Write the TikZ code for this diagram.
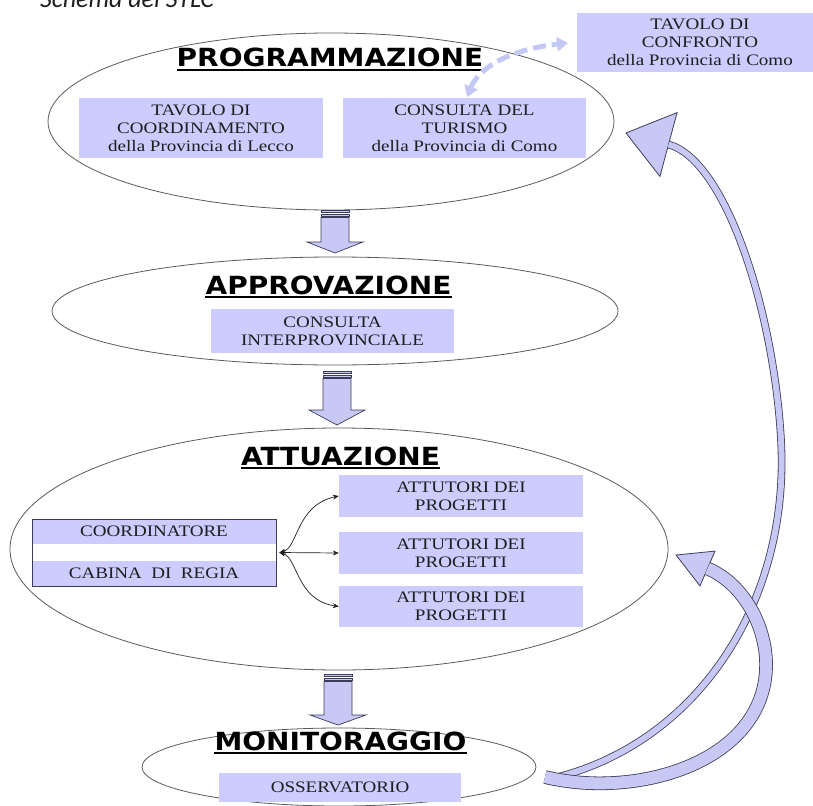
\documentclass[tikz,border=0pt]{standalone}
\usepackage{fontspec}
\usetikzlibrary{shapes.geometric, arrows.meta}
\newfontfamily\capfont{Carlito}
\newfontfamily\hfont{DejaVu Sans}[FakeStretch=1.12]
\newfontfamily\sfont{Liberation Serif}[FakeStretch=1.19]
\definecolor{boxfill}{RGB}{204,204,255}
\definecolor{arrfill}{RGB}{200,200,245}
\definecolor{edge}{RGB}{60,60,90}
\definecolor{ellc}{RGB}{90,90,90}
\definecolor{dashc}{RGB}{196,200,245}
\definecolor{txt}{RGB}{30,30,30}
\newcommand\blockarrow[4]{%
  \draw[blk] (#1-14,#2) rectangle (#1+14,#2+2.5);
  \draw[blk] (#1-14,#2+4) rectangle (#1+14,#2+6);
  \draw[blk] (#1-14,#2+7.5) -- (#1-14,#3) -- (#1-28,#3) -- (#1,#4) -- (#1+28,#3) -- (#1+14,#3) -- (#1+14,#2+7.5) -- cycle;
}
\begin{document}
\begin{tikzpicture}[x=1pt,y=-1pt,
  phase/.style={ellipse, draw=ellc, line width=0.8pt, inner sep=0pt},
  boxnode/.style={fill=boxfill, inner sep=0pt, align=center, text=txt, font=\sfont\fontsize{16}{18}\selectfont},
  headnode/.style={font=\hfont\bfseries\fontsize{25}{30}\selectfont, inner sep=0pt, anchor=base, text=black},
  uline/.style={line width=2pt, black},
  blk/.style={draw=edge, fill=arrfill, line width=0.7pt, line join=miter},
  ribbon/.style={draw=edge, line width=0.8pt, double=arrfill, double distance=#1},
  headtri/.style={draw=edge, fill=arrfill, line width=0.8pt, line join=miter},
  link/.style={txt, line width=0.7pt, {Stealth[length=6pt,width=5pt]}-{Stealth[length=6pt,width=5pt]}},
  dashlink/.style={dashc, line width=5pt, dash pattern=on 13pt off 6pt, {Triangle[length=11pt,width=14pt]}-{Triangle[length=11pt,width=14pt]}}
]
\useasboundingbox (0,0) rectangle (813,805);

% caption (cut at the top edge, as in the reference)
\node[anchor=base west, inner sep=0pt, font=\capfont\itshape\fontsize{26}{30}\selectfont, text=txt] (cap) at (40,8) {Schema del STLC};

% phases
\node[phase, minimum width=566pt, minimum height=177pt] (e1) at (331,121.5) {};
\node[phase, minimum width=566pt, minimum height=108pt] (e2) at (335,311) {};
\node[phase, minimum width=658pt, minimum height=242pt] (e3) at (339,549) {};
\node[phase, minimum width=394pt, minimum height=78pt] (e4) at (339,767) {};

% headings
\node[headnode] (h1) at (330,67) {PROGRAMMAZIONE};
\node[headnode] (h2) at (328.5,294) {APPROVAZIONE};
\node[headnode] (h3) at (340.5,465) {ATTUAZIONE};
\node[headnode] (h4) at (340.5,750) {MONITORAGGIO};
\foreach \h in {h1,h2,h3,h4}
  \draw[uline] ([yshift=-3pt]\h.base west) -- ([yshift=-3pt]\h.base east);

% boxes
\node[boxnode, minimum width=244pt, minimum height=60pt] (tc) at (201,128) {TAVOLO DI\\COORDINAMENTO\\della Provincia di Lecco};
\node[boxnode, minimum width=243pt, minimum height=60pt] (ct) at (464.5,128) {CONSULTA DEL\\TURISMO\\della Provincia di Como};
\node[boxnode, minimum width=246pt, minimum height=59pt] (cf) at (700,42.5) {TAVOLO DI\\CONFRONTO\\della Provincia di Como};
\node[boxnode, minimum width=243pt, minimum height=44pt] (ci) at (332.5,331) {CONSULTA\\INTERPROVINCIALE};
\node[boxnode, minimum width=244pt, minimum height=42pt] (a1) at (461,496) {ATTUTORI DEI\\PROGETTI};
\node[boxnode, minimum width=244pt, minimum height=42pt] (a2) at (461,553) {ATTUTORI DEI\\PROGETTI};
\node[boxnode, minimum width=244pt, minimum height=41pt] (a3) at (461,606.5) {ATTUTORI DEI\\PROGETTI};
\node[boxnode, minimum width=244pt, minimum height=25pt] (cotop) at (154,531.5) {COORDINATORE};
\node[boxnode, minimum width=244pt, minimum height=25pt] (cobot) at (154,573.5) {CABINA\ \ DI\ \ REGIA};
\node[draw=edge, line width=0.8pt, minimum width=244pt, minimum height=67pt, inner sep=0pt] (coord) at (154,552.5) {};
\node[boxnode, minimum width=242pt, minimum height=29pt] (os) at (340,787.5) {OSSERVATORIO};

% coordinator links
\coordinate (j) at ([xshift=3pt]coord.east);
\draw[link] (j) .. controls (298,548) and (296,505) .. (a1.west);
\draw[link] (j) -- (a2.west);
\draw[link] (j) .. controls (298,558) and (296,600) .. (a3.west);

% block arrows between phases
\blockarrow{335}{210}{242}{253}
\blockarrow{337}{371}{410}{425}
\blockarrow{338}{674}{715}{725}

% dashed link
\coordinate (dt1) at (467,97);
\coordinate (dt2) at (568,43);
\draw[dashlink] (dt1) .. controls (478,70) and (505,50) .. (dt2);

% feedback ribbon to PROGRAMMAZIONE
\coordinate (t1) at (558,777);
\coordinate (m1) at (781,440);
\coordinate (hb1) at (668.5,144.5);
\coordinate (tp1) at (626,133);
\draw[headtri] (tp1) -- (677.1,112.6) -- (659.9,176.4) -- cycle;
\draw[ribbon=6pt] (t1) .. controls (700,740) and (790,600) .. (m1) .. controls (774,312) and (726,160) .. (hb1);

% feedback ribbon to ATTUAZIONE
\coordinate (t2) at (545,777);
\coordinate (m2) at (766,660);
\coordinate (hb2) at (707.5,568.5);
\coordinate (tp2) at (676,555);
\draw[headtri] (tp2) -- (715,551.1) -- (700,585.9) -- cycle;
\draw[ribbon=12pt] (t2) .. controls (640,800) and (770,760) .. (m2) .. controls (764,620) and (740,582) .. (hb2);
\end{tikzpicture}
\end{document}
